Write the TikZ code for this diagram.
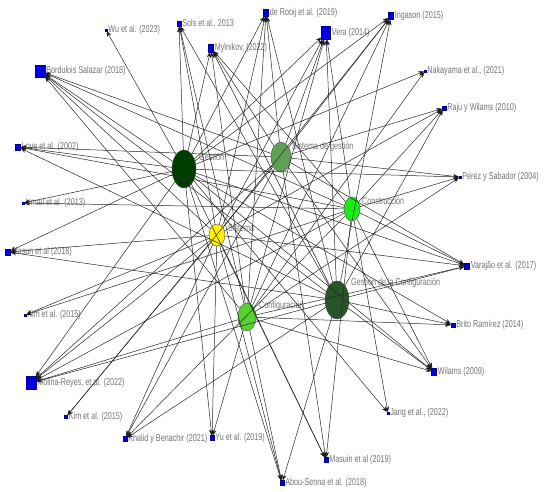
\documentclass[tikz,border=0pt]{standalone}
\usepackage{fontspec}
\setmainfont[FakeStretch=0.72]{Liberation Sans}
\usetikzlibrary{shapes.geometric,arrows.meta}
\definecolor{refblue}{RGB}{0,0,230}
\definecolor{gestgreen}{RGB}{0,62,0}
\definecolor{sisgreen}{RGB}{95,160,85}
\definecolor{constgreen}{RGB}{25,235,20}
\definecolor{sisyellow}{RGB}{255,240,0}
\definecolor{confgreen}{RGB}{85,210,45}
\definecolor{gconfgreen}{RGB}{40,85,40}
\definecolor{labelgray}{RGB}{115,115,115}

\begin{document}
\begin{tikzpicture}[x=1pt,y=-1pt]

%
% Styles
%
\tikzstyle{concept} = [ellipse,draw=black!70,inner sep=0pt]
\tikzstyle{ref} = [rectangle,draw=refblue!60!black,fill=refblue,inner sep=0pt,line width=0.3pt]
\tikzstyle{lbl} = [text=labelgray,font=\fontsize{10}{11}\selectfont,inner sep=1pt]
\tikzstyle{link} = [draw=black!85,line width=0.5pt,-{Stealth[length=5.5pt,width=4.5pt]}]

\useasboundingbox (0,0) rectangle (546,491);

% concepts
\node[concept,fill=gestgreen,minimum width=24pt,minimum height=38pt] (g) at (184,169) {};
\node[concept,fill=sisgreen,minimum width=20pt,minimum height=30pt] (sg) at (281,157) {};
\node[concept,fill=constgreen,minimum width=16pt,minimum height=24pt] (c) at (352,209) {};
\node[concept,fill=sisyellow,minimum width=16pt,minimum height=22pt] (s) at (217,235) {};
\node[concept,fill=confgreen,minimum width=18pt,minimum height=28pt] (cf) at (247,317) {};
\node[concept,fill=gconfgreen,minimum width=24pt,minimum height=38pt] (gc) at (337,300) {};

\node[lbl,anchor=west] (gl) at (198,157) {Gestión};
\node[lbl,anchor=west] (sgl) at (291,147) {Sistema de gestión};
\node[lbl,anchor=west] (cl) at (361,201) {Construcción};
\node[lbl,anchor=west] (sl) at (227,228) {Sistema};
\node[lbl,anchor=west] (cfl) at (258,306) {Configuración};
\node[lbl,anchor=west] (gcl) at (350,283) {Gestión de la Configuración};

% references
\node[ref,minimum width=2pt,minimum height=2pt,label={[lbl]right:Wu et al. (2023)}] (wu) at (106,30) {};
\node[ref,minimum width=4pt,minimum height=5pt,label={[lbl]right:Sols et al., 2013}] (sols) at (179,24) {};
\node[ref,minimum width=5pt,minimum height=8pt,label={[lbl]right:Mylnikov, (2022)}] (myl) at (211,48) {};
\node[ref,minimum width=5pt,minimum height=7pt,label={[lbl]right:de Rooij et al. (2019)}] (rooij) at (266,13) {};
\node[ref,minimum width=9pt,minimum height=13pt,label={[lbl]right:Vera (2014)}] (vera) at (326,33) {};
\node[ref,minimum width=5pt,minimum height=7pt,label={[lbl]right:Ingason (2015)}] (ingason) at (391,16) {};
\node[ref,minimum width=2pt,minimum height=2pt,label={[lbl]right:Nakayama et al., (2021)}] (naka) at (425,71) {};
\node[ref,minimum width=4pt,minimum height=4pt,label={[lbl]right:Raju y Wilams (2010)}] (raju) at (444,108) {};
\node[ref,minimum width=10pt,minimum height=12pt,label={[lbl]right:Bordulois Salazar (2018)}] (bord) at (40,71) {};
\node[ref,minimum width=5pt,minimum height=6pt,label={[lbl]right:Love et al. (2002)}] (love) at (18,147) {};
\node[ref,minimum width=2pt,minimum height=2pt,label={[lbl]right:Ismail et al. (2013)}] (ismail) at (23,203) {};
\node[ref,minimum width=5pt,minimum height=6pt,label={[lbl]right:Masun et al (2018)}] (masun) at (8,252) {};
\node[ref,minimum width=2pt,minimum height=2pt,label={[lbl]right:Pérez y Sabador (2004)}] (perez) at (460,177) {};
\node[ref,minimum width=5pt,minimum height=6pt,label={[lbl]right:Varajão et al. (2017)}] (varajao) at (467,266) {};
\node[ref,minimum width=2pt,minimum height=2pt,label={[lbl]right:Kim et al. (2015)}] (kimu) at (25,315) {};
\node[ref,minimum width=4pt,minimum height=4pt,label={[lbl]right:Brito Ramírez (2014)}] (brito) at (453,325) {};
\node[ref,minimum width=10pt,minimum height=13pt,label={[lbl]right:Molina-Reyes, et al. (2022)}] (molina) at (31,383) {};
\node[ref,minimum width=5pt,minimum height=7pt,label={[lbl]right:Wilams (2009)}] (wilams) at (434,372) {};
\node[ref,minimum width=3pt,minimum height=3pt,label={[lbl]right:Kim et al. (2015)}] (kiml) at (66,417) {};
\node[ref,minimum width=2pt,minimum height=2pt,label={[lbl]right:Jang et al., (2022)}] (jang) at (388,413) {};
\node[ref,minimum width=4pt,minimum height=5pt,label={[lbl]right:Khalid y Benachir (2021)}] (khalid) at (125,439) {};
\node[ref,minimum width=4pt,minimum height=5pt,label={[lbl]right:Yu et al. (2019)}] (yu) at (212,438) {};
\node[ref,minimum width=4pt,minimum height=5pt,label={[lbl]right:Masuin et al (2019)}] (masuin) at (326,460) {};
\node[ref,minimum width=4pt,minimum height=5pt,label={[lbl]right:Abou-Senna et al. (2018)}] (abou) at (282,483) {};

% links
\path[link] (g) edge (wu) edge (sols) edge (myl) edge (rooij) edge (vera) edge (ingason)
  edge (naka) edge (bord) edge (love) edge (ismail) edge (masun) edge (perez) edge (varajao)
  edge (brito) edge (molina) edge (wilams) edge (jang) edge (yu) edge (masuin) edge (abou);
\path[link] (sg) edge (myl) edge (rooij) edge (vera) edge (ingason) edge (raju) edge (bord)
  edge (love) edge (perez) edge (varajao) edge (molina) edge (wilams) edge (kiml)
  edge (khalid) edge (masuin);
\path[link] (c) edge (myl) edge (vera) edge (raju) edge (bord) edge (love) edge (ismail)
  edge (perez) edge (varajao) edge (kimu) edge (molina) edge (wilams) edge (jang)
  edge (khalid) edge (masuin);
\path[link] (s) edge (sols) edge (rooij) edge (vera) edge (ingason) edge (raju) edge (bord)
  edge (masun) edge (varajao) edge (kimu) edge (molina) edge (kiml) edge (khalid)
  edge (yu) edge (masuin) edge (abou);
\path[link] (cf) edge (sols) edge (myl) edge (rooij) edge (vera) edge (ingason) edge (naka)
  edge (bord) edge (perez) edge (varajao) edge (brito) edge (molina) edge (wilams)
  edge (yu) edge (abou);
\path[link] (gc) edge (sols) edge (myl) edge (rooij) edge (vera) edge (ingason) edge (raju)
  edge (bord) edge (love) edge (masun) edge (varajao) edge (brito) edge (molina)
  edge (wilams) edge (khalid) edge (abou);

\end{tikzpicture}
\end{document}
